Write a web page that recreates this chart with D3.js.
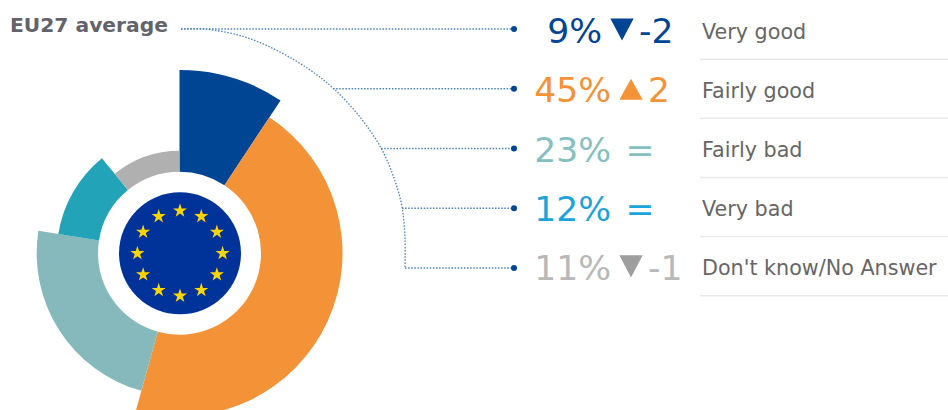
<!DOCTYPE html>
<html>
<head>
<meta charset="utf-8">
<script src="https://cdn.jsdelivr.net/npm/d3@7"></script>
<style>
html,body{margin:0;padding:0;background:#fff;overflow:hidden}
svg{display:block}
text{font-family:"DejaVu Sans",sans-serif}
</style>
</head>
<body>
<svg id="chart" width="948" height="410"></svg>
<script>
const categories = ["Very good","Fairly good","Fairly bad","Very bad","Don't know/No Answer"];
const shares = [9.3,45,23.2,11.6,10.9];
const changes = [-2,2,0,0,-1];
const wedgeColors = ["#004494","#F39237","#85B9BB","#23A3B8","#B0B0B0"];
const textColors = ["#004494","#F39237","#85BFC1","#1BA3DC","#B8B8B8"];
const triangleColors = ["#004494","#F39237","#85BFC1","#1BA3DC","#9E9E9E"];
const guideCurve = [[205,29],[245,37],[280,52],[310,70],[333,88],[360,117],[381,148],[394,178],[402,207],[405,238],[405,268]];
const branchStart = [181,333,381,402,405];

const svg = d3.select("#chart");
const cx = 179.5, cy = 253.2;

const radius = d3.scaleLinear().domain([0,4]).range([183.2,102.5]);
const rowY = d3.scalePoint().domain(categories).range([29,268]);
const valueY = d3.scalePoint().domain(categories).range([43.2,280]);
const labelY = d3.scalePoint().domain(categories).range([38.7,275]);
const ruleY = d3.scalePoint().domain(categories).range([59.3,295.7]);
const pie = d3.pie().sort(null).value(d=>d)(shares);
const arc = d3.arc().innerRadius(81.5);

const donut = svg.append("g").attr("transform",`translate(${cx},${cy})`);
donut.selectAll("path").data(pie).join("path")
  .attr("d",(d,i)=>arc.outerRadius(radius(i))(d))
  .attr("fill",(d,i)=>wedgeColors[i]);

// EU flag
const flag = svg.append("g").attr("transform",`translate(180,253.3)`);
flag.append("circle").attr("r",61).attr("fill","#003399");
const star = d3.symbol().type(d3.symbolStar).size(62)();
d3.range(12).forEach(i=>{
  const a = i/12*2*Math.PI;
  flag.append("path").attr("d",star).attr("fill","#FFD500")
    .attr("transform",`translate(${42.6*Math.sin(a)},${-42.6*Math.cos(a)})`);
});

// leaders
const dash = {stroke:"#4A82C0","stroke-width":1.3,"stroke-dasharray":"1.5 1.6",fill:"none"};
function styled(s){Object.entries(dash).forEach(([k,v])=>s.attr(k,v));return s;}
styled(svg.append("path").attr("d",d3.line().curve(d3.curveCatmullRom)([[181,29],...guideCurve])));
categories.forEach((c,i)=>{
  const y = rowY(c), vy = valueY(c);
  styled(svg.append("line").attr("x1",branchStart[i]).attr("x2",511).attr("y1",y).attr("y2",y));
  svg.append("circle").attr("cx",514).attr("cy",y).attr("r",3).attr("fill","#004494");
  svg.append("line").attr("x1",700).attr("x2",948).attr("y1",ruleY(c)).attr("y2",ruleY(c))
    .attr("stroke","#E9E9E9").attr("stroke-width",1.4);

  const end = shares[i] < 10 ? 602 : 611;
  svg.append("text").attr("x",end).attr("y",vy).attr("text-anchor","end")
    .attr("font-size",34.6).attr("fill",textColors[i]).text(Math.round(shares[i])+"%");
  if(changes[i]===0){
    svg.append("text").attr("x",end+29).attr("y",vy).attr("text-anchor","middle")
      .attr("font-size",34.6).attr("fill",textColors[i]).text("=");
  } else {
    const w=23.3,up=changes[i]>0,tx=end+20;
    const tri = up ? [[tx-w/2,vy-2.6],[tx+w/2,vy-2.6],[tx,vy-23.6]] : [[tx-w/2,vy-24.8],[tx+w/2,vy-24.8],[tx,vy-2.6]];
    svg.append("path").attr("d",d3.line()(tri)+"Z").attr("fill",triangleColors[i]);
    svg.append("text").attr("x",end+37).attr("y",vy)
      .attr("font-size",34.6).attr("fill",textColors[i]).text(changes[i]);
  }
  svg.append("text").attr("x",702).attr("y",labelY(c))
    .attr("font-size",20.7).attr("fill","#666").text(c);
});

svg.append("text").attr("x",10).attr("y",32).attr("font-size",20.25)
  .attr("font-weight","bold").attr("fill","#63636B").text("EU27 average");
</script>
</body>
</html>
